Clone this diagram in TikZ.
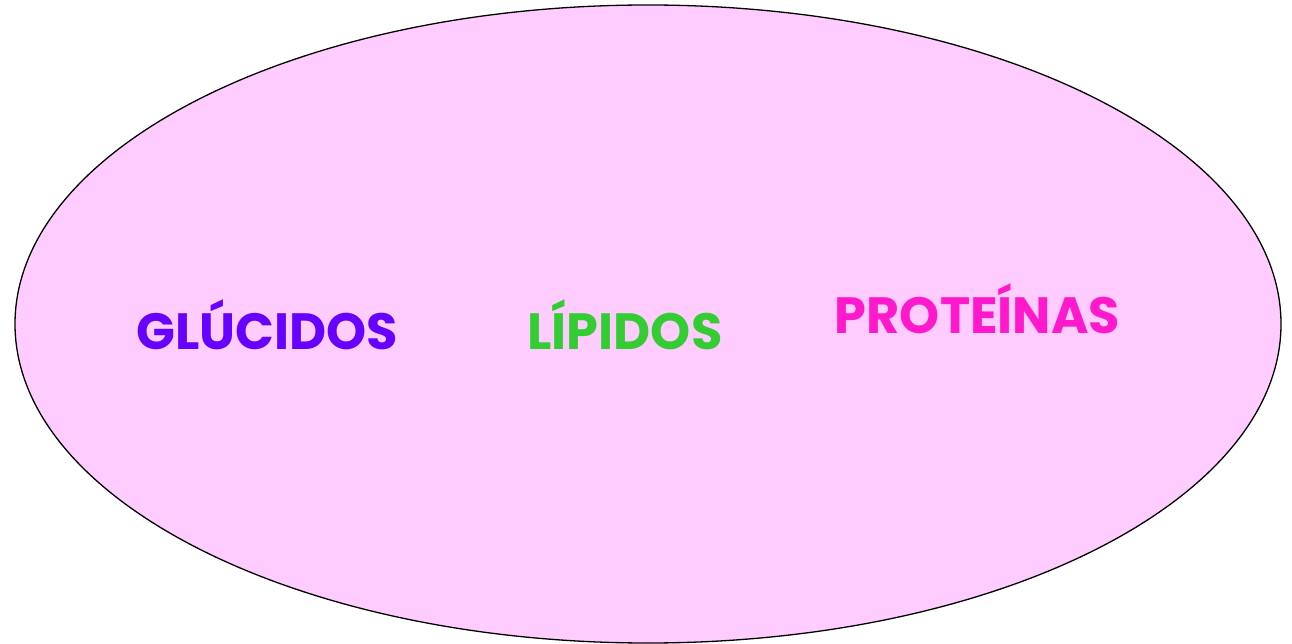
\documentclass[tikz,border=0pt]{standalone}
\usepackage{fontspec}
\setmainfont{Poppins}
\usetikzlibrary{shapes.geometric}
\definecolor{cellfill}{HTML}{FFCCFF}
\definecolor{gluc}{HTML}{6600FF}
\definecolor{lip}{HTML}{33CC33}
\definecolor{prot}{HTML}{FF19CC}
\tikzset{
  word/.style={anchor=base, inner sep=0pt, font=\fontsize{51}{55}\selectfont\bfseries}
}
\begin{document}
\begin{tikzpicture}[x=1pt,y=1pt]
\useasboundingbox (0,0) rectangle (1292,643);
\node (cell) [ellipse, draw=black, line width=1.3pt, fill=cellfill, inner sep=0pt,
  minimum width=1266pt, minimum height=638pt] at (648,319) {};
\node (glucidos) [word, text=gluc] at (267.5,293) {GLÚCIDOS};
\node (lipidos) [word, text=lip] at (625,293) {LÍPIDOS};
\node (proteinas) [word, text=prot] at (977.5,309) {PROTEÍNAS};
\end{tikzpicture}
\end{document}
